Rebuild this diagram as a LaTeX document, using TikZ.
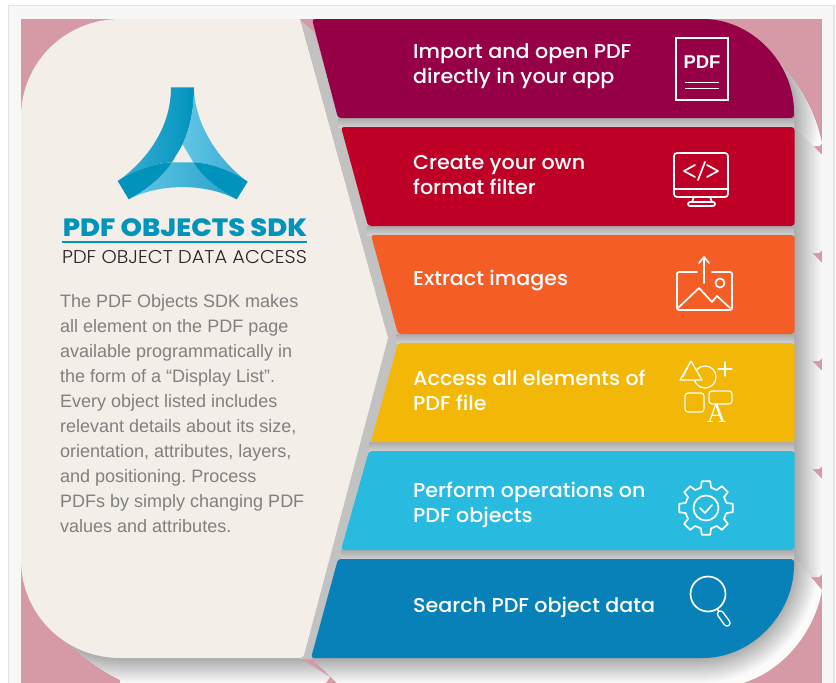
\documentclass[tikz,border=0pt]{standalone}
\usepackage{fontspec}
\setmainfont{Poppins}
\newfontfamily\ribfont[FakeStretch=1.033]{Poppins Medium}
\newfontfamily\subfont[FakeStretch=1.047]{Poppins Light}
\newfontfamily\titlefont[FakeStretch=1.09]{Poppins ExtraBold}
\newfontfamily\bodyfont{Liberation Sans}
\newfontfamily\serifA{Liberation Serif}
\definecolor{pinkbg}{HTML}{D59AA5}
\definecolor{panelc}{HTML}{F3EEE8}
\definecolor{ribA}{HTML}{960047}
\definecolor{ribB}{HTML}{BF0026}
\definecolor{ribC}{HTML}{F55D27}
\definecolor{ribD}{HTML}{F3B807}
\definecolor{ribE}{HTML}{29BADF}
\definecolor{ribF}{HTML}{0881B9}
\definecolor{logoD}{HTML}{0094BD}
\definecolor{logoM}{HTML}{35A9D0}
\definecolor{logoL}{HTML}{62C6E6}
\definecolor{shdark}{HTML}{ABABAB}
\definecolor{shlight}{HTML}{FBFBFB}
\tikzset{
  x=1pt,y=-1pt,
  ribtext/.style={anchor=west,align=left,text=white,inner sep=0pt,font=\ribfont\fontsize{20}{25}\selectfont},
  bodytext/.style={anchor=north west,align=left,text=black!50,inner sep=0pt,font=\bodyfont\frenchspacing\fontsize{18}{25}\selectfont},
  icon/.style={draw=white,line width=1.7pt,line join=round,line cap=round},
  stripshade/.style={left color=shdark,right color=shlight},
  gapshade/.style={top color=black!33,bottom color=black!18},
}
\begin{document}
\begin{tikzpicture}
\useasboundingbox (0,0) rectangle (836,683);
\fill[white] (0,0) rectangle (836,683);
\fill[black!3] (8,5) rectangle (834,683);
\draw[black!11,line width=1.6pt] (8.5,683) -- (8.5,5.5) -- (834,5.5) -- (834,683);
\fill[pinkbg] (21,19) rectangle (822,683);
% shadow of ribbon 1
\begin{scope}
\clip (776,60) .. controls (800,85) and (815,112) .. (822,143) -- (820,146) -- (812,146) -- (794,127) -- (700,118) -- cycle;
\fill[shlight] (700,19) rectangle (822,146);
\foreach \d in {26,25,...,0}{
  \pgfmathsetmacro{\m}{100-\d*100/26}
  \fill[shdark!\m!shlight] (700,118) ellipse [x radius=94+\d, y radius=99+\d];
}
\end{scope}
% shadows of the straight ribbons
\shade[stripshade] (794,127) -- (822,155) -- (822,250) -- (819,253) -- (794,253) -- cycle;
\shade[stripshade] (794,235) -- (822,263) -- (822,358) -- (819,361) -- (794,361) -- cycle;
\shade[stripshade] (794,343) -- (822,371) -- (822,466) -- (819,469) -- (794,469) -- cycle;
\shade[stripshade] (794,451) -- (822,479) -- (822,574) -- (819,577) -- (794,577) -- cycle;
% shadow of ribbon 6
\begin{scope}
\clip (794,559) -- (822,590) .. controls (815,630) and (785,670) .. (743,683) -- (700,683) -- (700,559) -- cycle;
\fill[shlight] (700,559) rectangle (822,683);
\foreach \d in {26,25,...,0}{
  \pgfmathsetmacro{\m}{100-\d*100/26}
  \fill[shdark!\m!shlight] (700,559) ellipse [x radius=94+\d, y radius=99+\d];
}
\end{scope}
% shadow of the panel
\begin{scope}
\clip (58,632) .. controls (75,650) and (100,672) .. (128,683) -- (120,683) -- (120,560) -- cycle;
\fill[shlight] (21,560) rectangle (120,683);
\foreach \d in {26,25,...,0}{
  \pgfmathsetmacro{\m}{100-\d*100/26}
  \fill[shdark!\m!shlight] (120,560) ellipse [x radius=99+\d, y radius=98+\d];
}
\end{scope}
\shade[top color=shdark,bottom color=shlight] (120,658) -- (300,658) -- (330,677) -- (326,683) -- (128,683) -- (120,680) -- cycle;
\shade[top color=shdark,bottom color=shlight] (311,658) -- (700,658) -- (700,683) -- (337,683) -- cycle;
% gaps
\fill[black!24] (301,21) -- (314,32) -- (340,118) -- (794,118) -- (794,559) -- (340,559) -- (312,659) -- (300,659) -- (388,338) -- cycle;
\shade[gapshade] (338,118) rectangle (794,127);
\shade[gapshade] (367,226) rectangle (794,235);
\shade[gapshade] (396,334) rectangle (794,343);
\shade[gapshade] (369,442) rectangle (794,451);
\shade[gapshade] (341,550) rectangle (794,559);
% panel
\fill[panelc,rounded corners=0pt] (120,19) -- (300,19) -- (388,338) -- (304,655) [rounded corners=3pt] -- (302,658) [rounded corners=0pt] -- (120,658) .. controls (65,658) and (21,614) .. (21,560) -- (21,117) .. controls (21,63) and (65,19) .. (120,19) -- cycle;
% ribbons
\fill[ribA,rounded corners=3pt] (312,19) -- (700,19) .. controls (752,19) and (794,63) .. (794,115) -- (794,118) -- (338,118) -- cycle;
\fill[ribB,rounded corners=3pt] (341,127) -- (794.5,127) -- (794.5,226) -- (368,226) -- cycle;
\fill[ribC,rounded corners=3pt] (371,235) -- (794.5,235) -- (794.5,334) -- (398,334) -- cycle;
\fill[ribD,rounded corners=3pt] (398,343) -- (794.5,343) -- (794.5,442) -- (371,442) -- cycle;
\fill[ribE,rounded corners=3pt] (369,451) -- (794.5,451) -- (794.5,550) -- (341,550) -- cycle;
\fill[ribF,rounded corners=3pt] (338,559) -- (794,559) -- (794,562) .. controls (794,614) and (752,658) .. (700,658) -- (311,658) -- cycle;
% logo
\shade[left color=logoM!80!logoL,right color=logoD]
  (171,87.3) -- (194,87.3) .. controls (194,110) and (190,128) .. (182.7,144.3) -- (172,162.3)
  .. controls (155,163) and (135,170) .. (118,181) .. controls (150,158) and (171,125) .. (171,87.3) -- cycle;
\shade[left color=logoL,right color=logoM]
  (194,87.3) .. controls (194,120) and (215,158) .. (248,182) .. controls (230,170) and (210,163) .. (193.3,162.3)
  -- (182.7,144.3) .. controls (190,128) and (194,110) .. (194,87.3) -- cycle;
\shade[left color=logoL,right color=logoM!70!logoD]
  (128.7,199.3) .. controls (145,190) and (160,180) .. (172,162.3) -- (193.3,162.3)
  .. controls (205,180) and (220,190) .. (236.7,199.3) .. controls (205,183) and (160,183) .. (128.7,199.3) -- cycle;
\fill[logoD] (117.7,181) .. controls (135,170) and (155,163) .. (172,162.3) .. controls (160,180) and (145,190) .. (128.7,199.3) -- cycle;
\fill[logoD] (193.3,162.3) .. controls (210,163) and (230,170) .. (247.7,181.7) -- (236.7,199.3) .. controls (220,190) and (205,180) .. (193.3,162.3) -- cycle;
% headings
\node[inner sep=0pt,text=logoD] (title) at (185,228) {\titlefont\fontsize{25}{25}\selectfont PDF OBJECTS SDK};
\coordinate (ruleL) at (62,242);
\coordinate (ruleR) at (307,242);
\draw[logoD,line width=2pt] (ruleL) -- (ruleR);
\node[inner sep=0pt,text=black!85] (sub) at (184.5,257) {\subfont\fontsize{18.5}{19}\selectfont PDF OBJECT DATA ACCESS};
\node[bodytext] (body) at (60,294.5) {The PDF Objects SDK makes\\all element on the PDF page\\available programmatically in\\the form of a “Display List”.\\Every object listed includes\\relevant details about its size,\\orientation, attributes, layers,\\and positioning. Process\\PDFs by simply changing PDF\\values and attributes.};
% ribbon labels
\node[ribtext] (t1) at (413,66) {Import and open PDF\\directly in your app};
\node[ribtext] (t2) at (413,175) {Create your own\\format filter};
\node[ribtext] (t3) at (413,281) {Extract images};
\node[ribtext] (t4) at (413,390.5) {Access all elements of\\PDF file};
\node[ribtext] (t5) at (413,505) {Perform operations on\\PDF objects};
\node[ribtext] (t6) at (413,607) {Search PDF object data};
% pdf icon
\draw[white,line width=1.2pt] (676,38) rectangle (728,100);
\node[inner sep=0pt,text=white] (pdf) at (702,62) {\fontsize{18.5}{18.5}\selectfont\bodyfont\bfseries PDF};
\draw[white,line width=1pt] (685,82) -- (719,82) (685,88) -- (719,88);
% monitor icon
\draw[icon,rounded corners=3pt] (674,153) rectangle (728,197);
\draw[icon] (674,189) -- (728,189);
\draw[icon] (695,165) -- (684,171) -- (695,177) (698,180) -- (705,162) (707,165) -- (718,171) -- (707,177);
\draw[icon] (694,197) -- (692,202) (710,197) -- (712,202);
\draw[icon,rounded corners=2pt] (688,202) rectangle (715,206);
% image icon
\draw[icon,rounded corners=2pt] (697,272) -- (677,272) -- (677,310) -- (732,310) -- (732,272) -- (712,272);
\draw[icon] (704,283) -- (704,257) (699,263) -- (704,257) -- (709,263);
\draw[icon] (720,283) circle [radius=4.5];
\draw[icon] (678,308) -- (699,288) -- (712,302) -- (717,296) -- (730,308);
% shapes icon
\draw[icon,line width=1.2pt] (705,377) circle [radius=11];
\draw[icon,fill=ribD,line width=1.2pt] (691,361) -- (702,380) -- (680,380) -- cycle;
\draw[icon,line width=1pt] (688,367) -- (683,377);
\draw[icon,line width=1.2pt] (725,362) -- (725,376) (718,369) -- (732,369);
\draw[icon,line width=1.2pt,rounded corners=3pt] (685,393) rectangle (704,412);
\draw[icon,line width=1.2pt,rounded corners=3pt] (709,391) rectangle (732,404);
\node[inner sep=0pt,text=white,anchor=base] (letterA) at (716.5,422) {\fontsize{27}{27}\serifA A};
% gear icon
\draw[icon,shift={(706,508)}] (-14:21)
  \foreach \a in {0,45,...,315}{ -- ({\a-14}:21) -- ({\a-9}:27) -- ({\a+9}:27) -- ({\a+14}:21) -- ({\a+31}:21) } ;
\draw[icon] (706,508) circle [radius=12.5];
\draw[icon] (700,508) -- (705,513) -- (712,505);
% magnifier icon
\draw[icon] (708,594) circle [radius=17.5];
\draw[icon] (717,609) -- (720,613);
\draw[white,line cap=round,line width=1.5pt,double=ribF,double distance=4.5pt] (720.5,614) -- (727,623);
\end{tikzpicture}
\end{document}
